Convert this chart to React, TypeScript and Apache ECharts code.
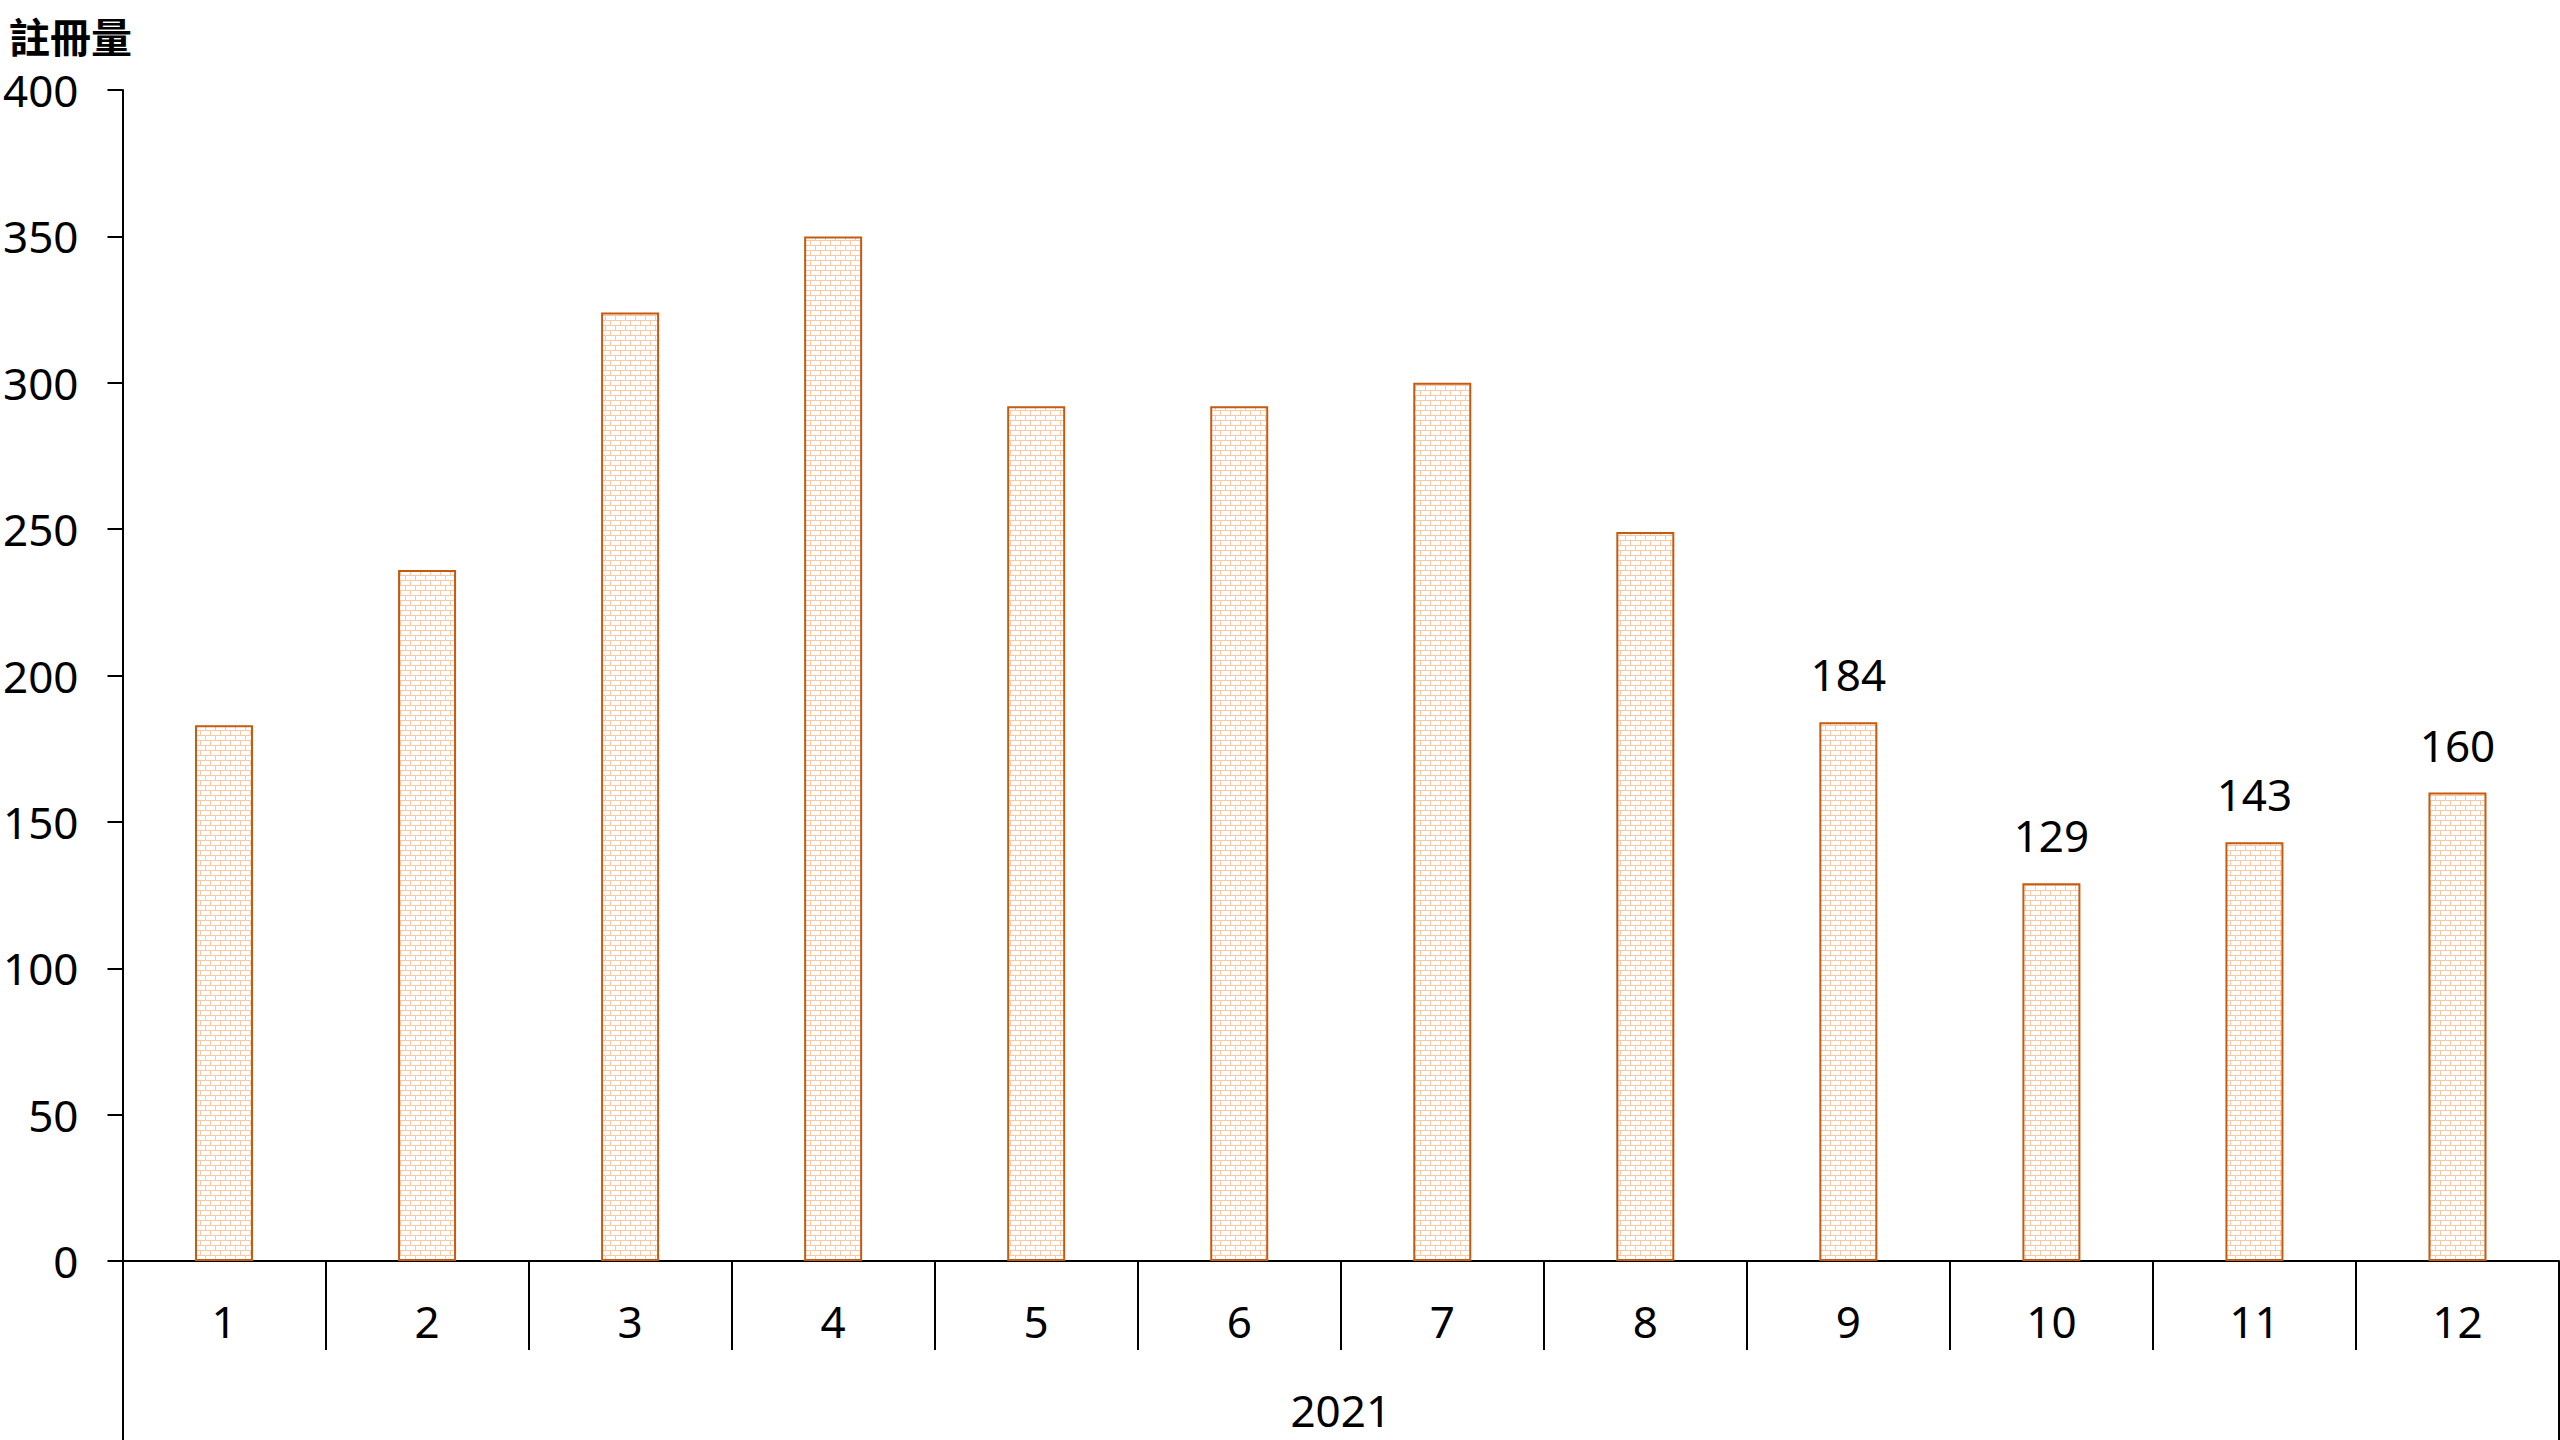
import React, { useEffect, useRef } from "react";
import * as echarts from "echarts";

const categories = ["1", "2", "3", "4", "5", "6", "7", "8", "9", "10", "11", "12"];
const values = [183, 236, 324, 350, 292, 292, 300, 249, 184, 129, 143, 160];
const labeledMonths = ["9", "10", "11", "12"];
const yearLabels = ["2021"];
const yTitle = "註冊量";

const FONT = "'Noto Sans', 'Noto Sans CJK TC', sans-serif";

function makeBrick(): HTMLCanvasElement {
  const c = document.createElement("canvas");
  c.width = 10;
  c.height = 10;
  const ctx = c.getContext("2d")!;
  ctx.fillStyle = "#ffffff";
  ctx.fillRect(0, 0, 10, 10);
  ctx.strokeStyle = "#f8c9a4";
  ctx.lineWidth = 1;
  ctx.beginPath();
  ctx.moveTo(0, 0.5);
  ctx.lineTo(10, 0.5);
  ctx.moveTo(0, 5.5);
  ctx.lineTo(10, 5.5);
  ctx.moveTo(0.5, 0);
  ctx.lineTo(0.5, 5);
  ctx.moveTo(5.5, 5);
  ctx.lineTo(5.5, 10);
  ctx.stroke();
  return c;
}

export default function App() {
  const ref = useRef<HTMLDivElement>(null);
  useEffect(() => {
    if (!ref.current) return;
    const chart = echarts.init(ref.current, null, { renderer: "svg" });
    const brick = makeBrick();
    const data = values.map((v, i) => ({
      value: v,
      label: { show: labeledMonths.includes(categories[i]) },
    }));
    chart.setOption({
      animation: false,
      backgroundColor: "#ffffff",
      textStyle: { fontFamily: FONT },
      title: {
        text: yTitle,
        left: 9,
        top: 16,
        padding: 0,
        textStyle: { fontSize: 41, fontWeight: "bold", color: "#000", fontFamily: FONT, lineHeight: 41 },
      },
      grid: { left: 122, right: 1, top: 90, bottom: 179, containLabel: false },
      xAxis: [
        {
          type: "category",
          data: categories,
          position: "bottom",
          axisLine: { show: true, lineStyle: { color: "#000", width: 2 } },
          axisTick: { show: true, length: 89, interval: 0, lineStyle: { color: "#000", width: 2 } },
          axisLabel: { fontSize: 44, color: "#000", margin: 38, interval: 0, fontFamily: FONT },
        },
        {
          type: "category",
          data: yearLabels,
          position: "bottom",
          axisLine: { show: false },
          axisTick: { show: true, length: 179, interval: 0, lineStyle: { color: "#000", width: 2 } },
          axisLabel: { fontSize: 44, color: "#000", margin: 127, fontFamily: FONT },
        },
      ],
      yAxis: {
        type: "value",
        min: 0,
        max: 400,
        interval: 50,
        axisLine: { show: true, lineStyle: { color: "#000", width: 2 } },
        axisTick: { show: true, length: 15, lineStyle: { color: "#000", width: 2 } },
        splitLine: { show: false },
        axisLabel: { fontSize: 44, color: "#000", margin: 44, fontFamily: FONT, lineHeight: 40 },
      },
      series: [
        {
          type: "bar",
          xAxisIndex: 0,
          data,
          barWidth: 58,
          itemStyle: {
            color: { image: brick, repeat: "repeat" },
            borderColor: "#c55a11",
            borderWidth: 2,
          },
          label: {
            position: "top",
            distance: 26,
            fontSize: 44,
            color: "#000",
            fontFamily: FONT,
          },
        },
      ],
    });
    return () => chart.dispose();
  }, []);
  return (
    <div
      ref={ref}
      style={{ position: "fixed", left: 0, top: 0, width: 2560, height: 1440 }}
    />
  );
}
